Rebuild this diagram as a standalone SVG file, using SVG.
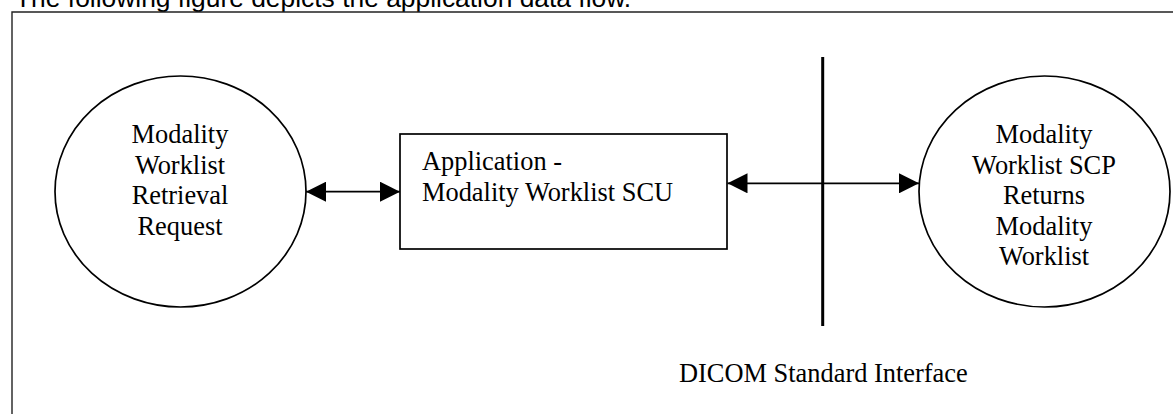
<svg xmlns="http://www.w3.org/2000/svg" width="1173" height="414" viewBox="0 0 1173 414">
  <style>
    .caption { font-family: "Liberation Sans", Arial, sans-serif; font-size: 26.4px; fill: #000; }
    .label { font-family: "Liberation Serif", "Times New Roman", serif; font-size: 26.4px; fill: #000; }
    .mid { text-anchor: middle; }
    .shape { fill: #fff; stroke: #000; stroke-width: 1.7; }
    .flow { fill: none; stroke: #000; stroke-width: 1.7; }
    .frame { fill: none; stroke: #222; stroke-width: 1.4; }
  </style>
  <defs>
    <marker id="head" viewBox="0 0 20 20" refX="20" refY="10" markerWidth="20" markerHeight="20" markerUnits="userSpaceOnUse" orient="auto-start-reverse">
      <path d="M0,0 L20,10 L0,20 z" fill="#000"/>
    </marker>
  </defs>
  <rect width="1173" height="414" fill="#fff"/>

  <!-- page caption and surrounding frame -->
  <text class="caption" x="15" y="7">The following figure depicts the application data flow.</text>
  <path class="frame" d="M12,414 V12 H1173"/>

  <!-- local request -->
  <g id="request">
    <ellipse class="shape" cx="180.5" cy="191.5" rx="125.5" ry="115.5"/>
    <text class="label mid" x="180" y="143">Modality</text>
    <text class="label mid" x="180" y="173.5">Worklist</text>
    <text class="label mid" x="180" y="204">Retrieval</text>
    <text class="label mid" x="180" y="234.5">Request</text>
  </g>

  <!-- application entity -->
  <g id="application">
    <rect class="shape" x="400" y="134" width="327" height="115"/>
    <text class="label" x="422" y="170">Application -</text>
    <text class="label" x="422" y="201">Modality Worklist SCU</text>
  </g>

  <!-- remote SCP -->
  <g id="scp">
    <ellipse class="shape" cx="1044.5" cy="191.5" rx="125.5" ry="115.5"/>
    <text class="label mid" x="1044" y="143">Modality</text>
    <text class="label mid" x="1044" y="173.5">Worklist SCP</text>
    <text class="label mid" x="1044" y="204">Returns</text>
    <text class="label mid" x="1044" y="234.5">Modality</text>
    <text class="label mid" x="1044" y="264.5">Worklist</text>
  </g>

  <!-- DICOM interface boundary -->
  <g id="interface">
    <line x1="822.7" y1="57" x2="822.7" y2="326" stroke="#000" stroke-width="3"/>
    <text class="label" x="679" y="381.7">DICOM Standard Interface</text>
  </g>

  <!-- connectors -->
  <g id="connectors">
    <line class="flow" x1="306" y1="191.7" x2="400" y2="191.7" marker-start="url(#head)" marker-end="url(#head)"/>
    <line class="flow" x1="727.5" y1="183.3" x2="919" y2="183.3" marker-start="url(#head)" marker-end="url(#head)"/>
  </g>
</svg>
